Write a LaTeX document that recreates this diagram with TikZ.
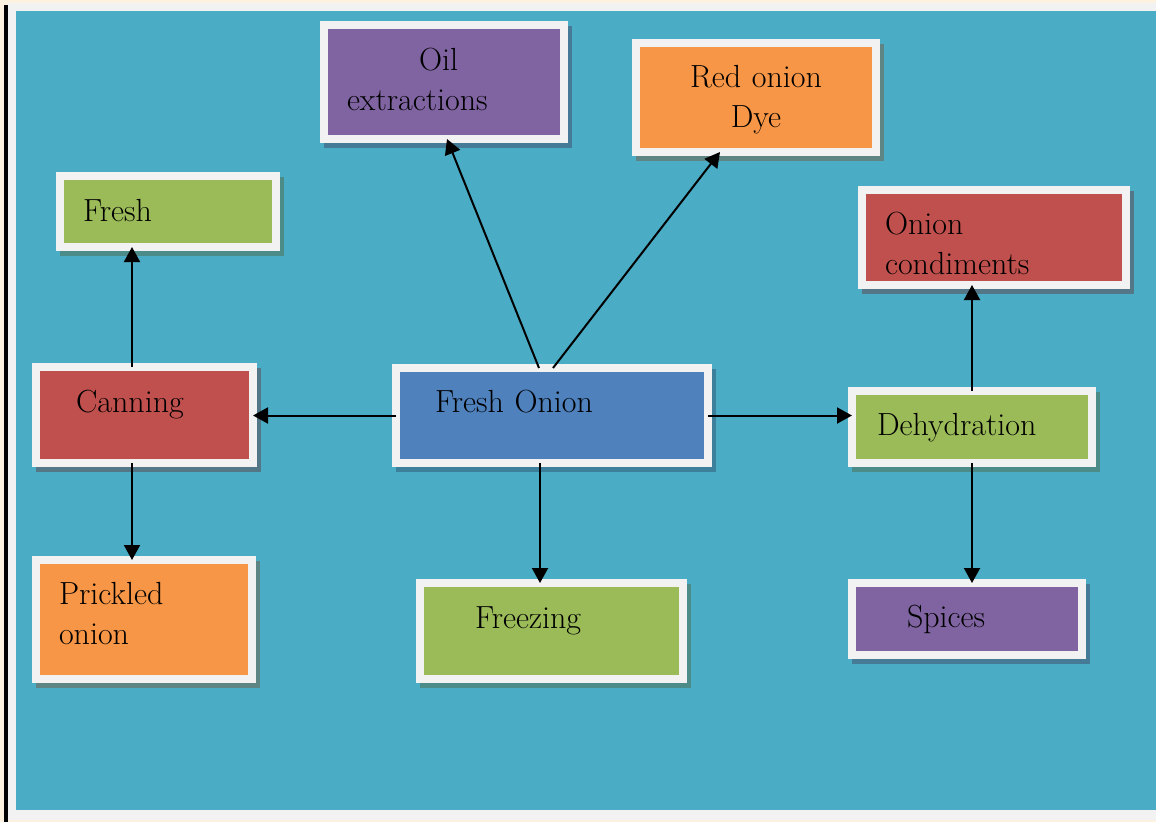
\documentclass[tikz,border=0pt]{standalone}
\usetikzlibrary{arrows.meta,shadows}
\definecolor{page}{HTML}{FDF2E0}
\definecolor{frame}{HTML}{F2F2F2}
\definecolor{panel}{HTML}{4BACC6}
\definecolor{purplebox}{HTML}{8064A2}
\definecolor{orangebox}{HTML}{F79646}
\definecolor{redbox}{HTML}{C0504D}
\definecolor{greenbox}{HTML}{9BBB59}
\definecolor{bluebox}{HTML}{4F81BD}
\begin{document}
\begin{tikzpicture}[x=1pt,y=-1pt,
    box/.style={fill=frame, anchor=north west, inner ysep=0pt, outer sep=-4pt, align=left,
      font=\fontsize{32}{40}\selectfont,
      path picture={\fill[#1] ([shift={(8pt,8pt)}]path picture bounding box.south west)
        rectangle ([shift={(-8pt,-8pt)}]path picture bounding box.north east);},
      drop shadow={shadow xshift=4pt, shadow yshift=-5pt, fill=#1!50!black, opacity=0.4}},
    arr/.style={-{Triangle[width=16pt,length=15pt]}, line width=2pt}]
  \useasboundingbox (0,0) rectangle (1156,822);
  \fill[page] (0,0) rectangle (1156,822);
  \fill[black] (4,5) rectangle (8,822);
  \fill[frame] (8,3) rectangle (1156,820);
  \fill[panel] (16,11) rectangle (1156,810);

  \node[box=purplebox, inner xsep=27pt, text width=194pt, text height=49pt, text depth=73pt]
    (oil) at (324,25) {\hspace*{72pt}Oil\\extractions};
  \node[box=orangebox, inner xsep=0pt, text width=248pt, text height=48pt, text depth=69pt, align=center]
    (dye) at (636,43) {Red onion\\Dye};
  \node[box=greenbox, inner xsep=27pt, text width=170pt, text height=49pt, text depth=30pt]
    (fresh) at (60,176) {Fresh};
  \node[box=redbox, inner xsep=27pt, text width=218pt, text height=48pt, text depth=55pt]
    (cond) at (862,190) {Onion\\condiments};
  \node[box=redbox, inner xsep=44pt, text width=137pt, text height=49pt, text depth=55pt]
    (can) at (36,367) {Canning};
  \node[box=bluebox, inner xsep=43pt, text width=234pt, text height=48pt, text depth=55pt]
    (fo) at (396,368) {Fresh Onion};
  \node[box=greenbox, inner xsep=29pt, text width=190pt, text height=48pt, text depth=32pt]
    (deh) at (852,391) {Dehydration};
  \node[box=orangebox, inner xsep=27pt, text width=170pt, text height=48pt, text depth=79pt]
    (pri) at (36,560) {Prickled\\onion};
  \node[box=greenbox, inner xsep=59pt, text width=153pt, text height=49pt, text depth=55pt]
    (frz) at (420,583) {Freezing};
  \node[box=purplebox, inner xsep=59pt, text width=120pt, text height=48pt, text depth=32pt]
    (spi) at (852,583) {Spices};

  \coordinate (fo-s) at ([xshift=-12pt]fo.south);
  \coordinate (can-n) at ([xshift=-12.5pt]can.north);
  \coordinate (can-s) at ([xshift=-12.5pt]can.south);
  \begin{scope}[arr]
    \draw ([xshift=-13pt]fo.north) to ([xshift=3pt]oil.south);
    \draw ([xshift=1pt]fo.north) to ([xshift=-36pt]dye.south);
    \draw (fo.west) to (fo.west -| can.east);
    \draw (fo.east) to (fo.east -| deh.west);
    \draw (fo-s) to (fo-s |- frz.north);
    \draw (can-n) to (can-n |- fresh.south);
    \draw (can-s) to (can-s |- pri.north);
    \draw (deh.north) to (deh.north |- cond.south);
    \draw (deh.south) to (deh.south |- spi.north);
  \end{scope}
\end{tikzpicture}
\end{document}
